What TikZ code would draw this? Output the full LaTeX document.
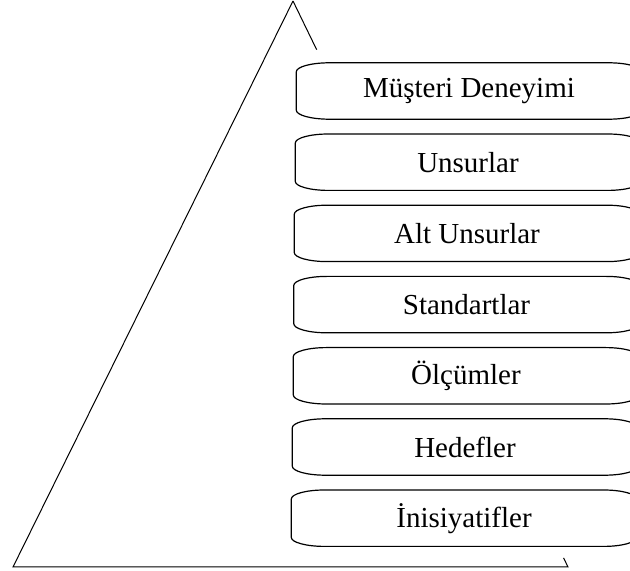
\documentclass[tikz,border=0pt]{standalone}
\usepackage{fontspec}
\setmainfont{Liberation Serif}
\usetikzlibrary{calc}

\begin{document}
\begin{tikzpicture}[x=1pt,y=1pt,
  kutu/.style={minimum width=345pt,minimum height=56pt,inner sep=0pt,font=\fontsize{29}{35}\selectfont},
  kenar/.style={draw=black,line width=1.2pt},
  cizgi/.style={draw=black,line width=1pt}]
\useasboundingbox (0,0) rectangle (630,571);
% ucgen
\coordinate (tepe) at (293,570);
\coordinate (sol) at (13,4);
\coordinate (sag) at (568,4);
\draw[cizgi] (tepe) -- (sol) -- (sag) -- ($(sag)!0.016!(tepe)$);
\draw[cizgi] (tepe) -- ($(tepe)!0.086!(sag)$);
% kutular
\node[kutu] (k1) at (469,480) {Müşteri Deneyimi};
\node[kutu] (k2) at (468,408.8) {Unsurlar};
\node[kutu] (k3) at (467,337.6) {Alt Unsurlar};
\node[kutu] (k4) at (466.5,266.4) {Standartlar};
\node[kutu] (k5) at (466,195.2) {Ölçümler};
\node[kutu] (k6) at (465,124) {Hedefler};
\node[kutu] (k7) at (464,52.8) {İnisiyatifler};
\foreach \k in {k1,k2,k3,k4,k5,k6,k7}
  \draw[kenar] ([xshift=33pt]\k.north west) -- ([xshift=-33pt]\k.north east)
    arc[start angle=90,end angle=0,x radius=33pt,y radius=9pt]
    -- ([yshift=9pt]\k.south east)
    arc[start angle=0,end angle=-90,x radius=33pt,y radius=9pt]
    -- ([xshift=33pt]\k.south west)
    arc[start angle=270,end angle=180,x radius=33pt,y radius=9pt]
    -- ([yshift=-9pt]\k.north west)
    arc[start angle=180,end angle=90,x radius=33pt,y radius=9pt] -- cycle;
\end{tikzpicture}
\end{document}
